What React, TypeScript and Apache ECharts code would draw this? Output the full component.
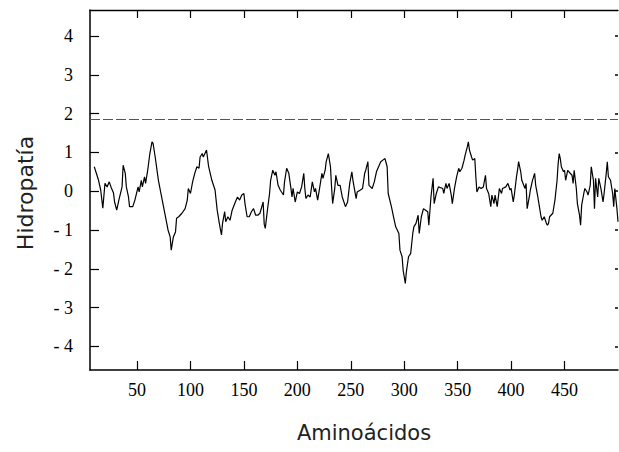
import React, { useEffect, useRef } from 'react';
import * as echarts from 'echarts';

// Residue positions (x) and hydropathy values (y)
const residues = [
  10, 14, 16, 18, 20, 22, 24, 26, 28, 29, 31, 33, 36, 37, 39, 40, 42, 43, 46, 48,
  51, 52, 54, 55, 57, 58, 60, 62, 64, 65, 67, 70, 73, 76, 79, 81, 82, 84, 86, 87,
  89, 92, 95, 97, 98, 100, 102, 104, 106, 108, 109, 111, 112, 115, 117, 120, 123, 125, 127, 129,
  130, 132, 133, 135, 137, 139, 142, 144, 146, 148, 150, 151, 153, 155, 157, 159, 161, 163, 165, 168,
  169, 170, 172, 174, 175, 177, 179, 180, 182, 184, 187, 188, 190, 192, 194, 195, 196, 198, 200, 202,
  204, 206, 207, 208, 210, 212, 214, 216, 217, 219, 221, 223, 224, 226, 227, 229, 231, 232, 233, 235,
  236, 238, 240, 242, 245, 247, 249, 251, 252, 255, 256, 259, 261, 263, 264, 266, 267, 270, 272, 274,
  276, 278, 280, 282, 284, 285, 288, 290, 292, 295, 296, 298, 299, 301, 302, 304, 306, 308, 309, 311,
  313, 314, 316, 318, 320, 322, 323, 325, 327, 328, 330, 332, 336, 337, 339, 340, 342, 344, 345, 347,
  349, 351, 352, 354, 356, 357, 359, 360, 361, 363, 364, 366, 367, 368, 370, 372, 374, 376, 377, 379,
  381, 382, 384, 385, 387, 389, 391, 392, 395, 397, 399, 400, 402, 403, 405, 406, 407, 409, 410, 413,
  414, 415, 417, 418, 420, 422, 423, 425, 426, 428, 429, 431, 433, 434, 435, 436, 439, 441, 443, 444,
  445, 446, 447, 449, 450, 451, 453, 454, 457, 458, 459, 461, 462, 464, 465, 466, 468, 469, 471, 472,
  474, 475, 477, 478, 479, 481, 482, 484, 486, 487, 489, 490, 491, 493, 495, 496, 497, 499, 500,
];

const hydropathy = [
  0.63, 0.28, 0.03, -0.44, 0.2, 0.11, 0.24, 0.08, -0.05, -0.28, -0.49, -0.23, 0.11, 0.67, 0.46, 0.11, -0.15, -0.4, -0.4, -0.23,
  0.11, -0.02, 0.28, 0.11, 0.37, 0.2, 0.54, 0.97, 1.27, 1.23, 0.88, 0.28, -0.15, -0.57, -1.0, -1.18, -1.52, -1.18, -1.05, -0.7,
  -0.66, -0.57, -0.45, -0.23, 0.07, -0.06, 0.24, 0.46, 0.63, 0.59, 0.88, 0.97, 0.88, 1.06, 0.63, 0.28, 0.03, -0.49, -0.83, -1.13,
  -0.83, -0.53, -0.79, -0.66, -0.75, -0.49, -0.28, -0.15, -0.23, -0.1, -0.06, -0.32, -0.66, -0.66, -0.53, -0.45, -0.62, -0.62, -0.57, -0.28,
  -0.85, -0.96, -0.49, -0.06, 0.28, 0.54, 0.41, 0.5, 0.15, 0.03, -0.1, 0.24, 0.59, 0.46, 0.07, -0.15, 0.07, -0.28, -0.02, -0.06,
  0.11, 0.46, 0.07, -0.19, -0.1, -0.15, 0.24, -0.02, 0.07, -0.23, 0.11, 0.46, 0.33, 0.54, 0.76, 0.97, 0.63, 0.11, -0.32, 0.07,
  0.41, 0.15, 0.15, -0.15, -0.4, -0.28, 0.2, 0.5, 0.28, -0.19, -0.02, 0.03, 0.07, 0.46, 0.54, 0.76, 0.15, 0.07, 0.24, 0.5,
  0.63, 0.76, 0.8, 0.84, 0.63, -0.06, -0.4, -0.66, -0.92, -1.09, -1.52, -1.69, -2.04, -2.38, -2.08, -1.69, -1.61, -1.09, -0.92, -0.83,
  -0.62, -1.09, -0.66, -0.45, -0.49, -0.53, -0.88, -0.15, 0.33, -0.32, -0.06, 0.11, 0.07, -0.06, 0.2, 0.07, 0.2, -0.1, -0.32, 0.07,
  0.37, 0.59, 0.5, 0.59, 0.8, 0.93, 1.14, 1.27, 1.06, 0.88, 0.8, 0.84, 0.37, -0.02, 0.11, 0.07, 0.11, 0.41, 0.07, -0.06,
  -0.4, -0.1, -0.32, -0.1, -0.4, 0.07, -0.06, 0.07, 0.11, 0.2, 0.03, 0.07, -0.28, -0.1, 0.37, 0.54, 0.76, 0.5, 0.28, 0.07,
  0.2, -0.45, -0.15, 0.03, 0.28, 0.46, 0.15, -0.15, -0.32, -0.66, -0.75, -0.66, -0.83, -0.88, -0.83, -0.66, -0.57, -0.23, 0.28, 0.71,
  0.97, 0.84, 0.63, 0.5, 0.54, 0.28, 0.54, 0.5, 0.41, 0.2, 0.54, 0.07, -0.32, -0.62, -0.88, -0.36, -0.06, 0.07, -0.02, -0.1,
  0.15, 0.63, 0.28, -0.45, 0.33, -0.15, 0.33, 0.07, -0.28, -0.06, 0.46, 0.76, 0.37, 0.28, -0.06, -0.4, 0.07, -0.45, -0.79,
];

const threshold = 1.85;
const xTicks = [50, 100, 150, 200, 250, 300, 350, 400, 450];
const yTicks = [-4, -3, -2, -1, 0, 1, 2, 3, 4];
const xMin = 6;
const xMax = 500;
const yMin = -4.61;
const yMax = 4.67;
const xTitle = 'Aminoácidos';
const yTitle = 'Hidropatía';

export default function App() {
  const ref = useRef<HTMLDivElement>(null);

  useEffect(() => {
    if (!ref.current) return;
    const chart = echarts.init(ref.current, null, { renderer: 'svg' });
    const data = residues.map((r, i) => [r, hydropathy[i]]);
    const serif = '"Liberation Serif", "Times New Roman", serif';
    const sans = '"DejaVu Sans", sans-serif';

    chart.setOption({
      animation: false,
      backgroundColor: '#ffffff',
      grid: { left: 90, right: 1, top: 10, bottom: 82 },
      xAxis: [
        {
          type: 'value',
          min: xMin,
          max: xMax,
          position: 'bottom',
          axisLine: { show: true, onZero: false, lineStyle: { color: '#000', width: 1.5 } },
          axisTick: { show: true, inside: true, length: 9, customValues: xTicks, lineStyle: { color: '#000', width: 1.2 } },
          axisLabel: { customValues: xTicks, margin: 11, fontFamily: serif, fontSize: 18, color: '#000' },
          splitLine: { show: false },
        },
        {
          type: 'value',
          min: xMin,
          max: xMax,
          position: 'top',
          axisLine: { show: true, onZero: false, lineStyle: { color: '#000', width: 1.3 } },
          axisTick: { show: true, inside: true, length: 8, customValues: xTicks, lineStyle: { color: '#000', width: 1.2 } },
          axisLabel: { show: false },
          splitLine: { show: false },
        },
      ],
      yAxis: [
        {
          type: 'value',
          min: yMin,
          max: yMax,
          position: 'left',
          axisLine: { show: true, onZero: false, lineStyle: { color: '#000', width: 1.5 } },
          axisTick: { show: true, inside: true, length: 9, customValues: yTicks, lineStyle: { color: '#000', width: 1.2 } },
          axisLabel: {
            customValues: yTicks,
            margin: 17,
            fontFamily: serif,
            fontSize: 18,
            color: '#000',
            formatter: (v: number) => (v < 0 ? '- ' + Math.abs(v) : String(v)),
          },
          splitLine: { show: false },
        },
        {
          type: 'value',
          min: yMin,
          max: yMax,
          position: 'right',
          axisLine: { show: false, onZero: false },
          axisTick: { show: true, inside: true, length: 3, customValues: yTicks, lineStyle: { color: '#000', width: 1.5 } },
          axisLabel: { show: false },
          splitLine: { show: false },
        },
      ],
      graphic: [
        {
          type: 'text',
          x: 364,
          y: 433,
          style: { text: xTitle, fontFamily: sans, fontSize: 21, fill: '#222', textAlign: 'center', textVerticalAlign: 'middle' },
        },
        {
          type: 'text',
          x: 25,
          y: 193,
          rotation: Math.PI / 2,
          style: { text: yTitle, fontFamily: sans, fontSize: 22, fill: '#222', textAlign: 'center', textVerticalAlign: 'middle' },
        },
      ],
      series: [
        {
          type: 'line',
          data,
          symbol: 'none',
          showSymbol: false,
          lineStyle: { color: '#000', width: 1.2 },
          markLine: {
            silent: true,
            symbol: 'none',
            label: { show: false },
            lineStyle: { color: '#555', type: [10, 3], width: 1 },
            data: [{ yAxis: threshold }],
          },
        },
      ],
    });

    return () => chart.dispose();
  }, []);

  return <div ref={ref} style={{ position: 'absolute', left: 0, top: 0, width: 619, height: 452 }} />;
}
